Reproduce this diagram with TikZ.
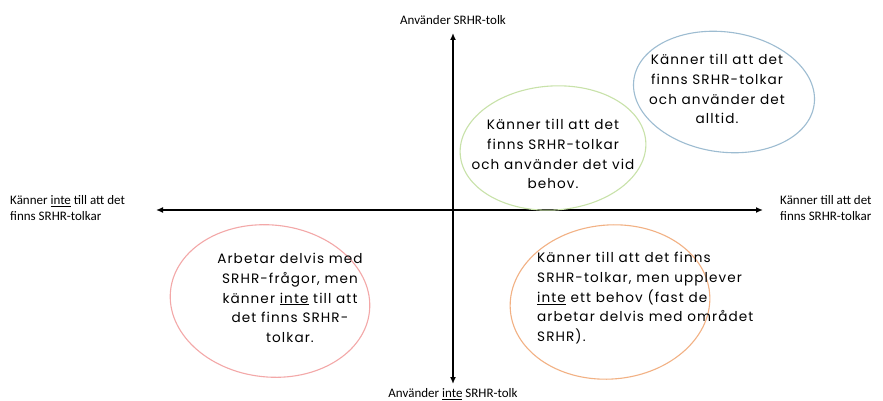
\documentclass[tikz,border=0pt]{standalone}
\usepackage{fontspec}
\setmainfont{Carlito}
\newfontfamily\handfont[LetterSpace=8]{Poppins}
\usetikzlibrary{arrows.meta}
\definecolor{bblue}{HTML}{9DBCD1}
\definecolor{bgreen}{HTML}{C8E2A9}
\definecolor{bpink}{HTML}{F3A8A8}
\definecolor{borange}{HTML}{F2B184}
\tikzset{
  axis/.style={line width=1.6pt,-{Latex[length=7pt,width=6pt]}},
  axlabel/.style={font=\fontsize{13}{15.5}\selectfont, inner sep=0pt},
  bubble/.style={line width=1.1pt},
  btext/.style={font=\handfont\fontsize{13.6}{19.8}\selectfont, inner sep=0pt, align=center}
}
\begin{document}
\begin{tikzpicture}[x=1pt,y=-1pt]
\useasboundingbox (0,0) rectangle (883,401);
\fill[white] (0,0) rectangle (883,401);
% axes
\coordinate (o) at (453,210);
\coordinate (top) at (453,33);
\coordinate (bot) at (453,384);
\coordinate (lft) at (156,210);
\coordinate (rgt) at (763,210);
\draw[axis] (o) -- (top);
\draw[axis] (o) -- (bot);
\draw[axis] (o) -- (lft);
\draw[axis] (o) -- (rgt);
\node[axlabel] (tl) at (453,20) {Använder SRHR-tolk};
\node[axlabel] (bl) at (453,394) {Använder \underline{inte} SRHR-tolk};
\node[axlabel, align=left, anchor=west] (ll) at (10,208) {Känner \underline{inte} till att det\\finns SRHR-tolkar};
\node[axlabel, align=left, anchor=west] (rl) at (780,208) {Känner till att det\\finns SRHR-tolkar};
% bubbles
\draw[bubble, bblue, rotate around={-8:(724,92)}] (724,92) ellipse [x radius=91, y radius=60];
\draw[bubble, bgreen, rotate around={4:(553,148)}] (553,148) ellipse [x radius=93, y radius=62];
\draw[bubble, bpink, rotate around={-6:(270,301)}] (270,301) ellipse [x radius=100, y radius=76];
\draw[bubble, borange, rotate around={5:(610,302)}] (610,302) ellipse [x radius=100, y radius=77];
% texts
\node[btext] (t1) at (717,89) {Känner till att det\\finns SRHR-tolkar\\och använder det\\alltid.};
\node[btext] (t2) at (553,154) {Känner till att det\\finns SRHR-tolkar\\och använder det vid\\behov.};
\node[btext] (t3) at (290,298) {Arbetar delvis med\\SRHR-frågor, men\\känner \underline{inte} till att\\det finns SRHR-\\tolkar.};
\node[btext, align=left, anchor=north west] (t4) at (537,252) {Känner till att det finns\\SRHR-tolkar, men upplever\\\underline{inte} ett behov (fast de\\arbetar delvis med området\\SRHR).};
\end{tikzpicture}
\end{document}
